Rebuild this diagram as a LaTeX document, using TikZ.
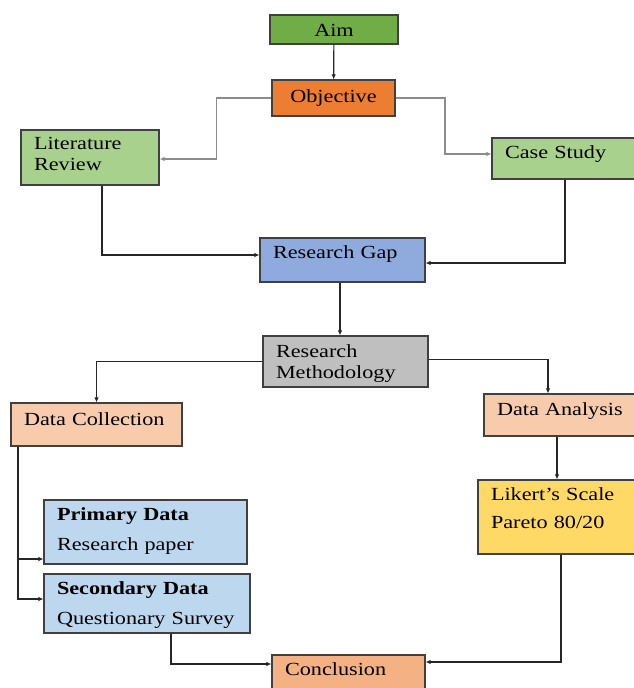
\documentclass[tikz,border=0pt]{standalone}
\usepackage{fontspec}
\setmainfont{Liberation Serif}[FakeStretch=1.2]
\usetikzlibrary{arrows.meta}

\definecolor{aimgreen}{HTML}{70AD47}
\definecolor{objorange}{HTML}{ED7D31}
\definecolor{litgreen}{HTML}{A9D18E}
\definecolor{gapblue}{HTML}{8FAADC}
\definecolor{methgray}{HTML}{BFBFBF}
\definecolor{peach}{HTML}{F8CBAD}
\definecolor{paleblue}{HTML}{BDD7EE}
\definecolor{gold}{HTML}{FFD966}
\definecolor{conclorange}{HTML}{F4B183}

\begin{document}
\begin{tikzpicture}[x=1pt, y=-1pt,
    box/.style={draw=black!75, line width=1.2pt, inner xsep=13pt, inner ysep=0pt,
        align=left, font=\fontsize{18.5}{21}\selectfont, text=black, text height=13pt},
    sz/.style 2 args={minimum width=#1pt, minimum height=#2pt, text width=#1pt-26pt},
    lift/.style={text depth=#1pt},
    arr/.style={line width=1.2pt, black!85, -{Latex[length=5pt, width=4.5pt]}},
    arrg/.style={line width=1.8pt, black!45, -{Latex[length=5pt, width=4.5pt]}}]

    \useasboundingbox (0,0) rectangle (633,688);

    % Boxes
    \node[box, fill=aimgreen, sz={128}{29}, lift=0, align=center] (aim) at (334,29.5) {Aim};
    \node[box, fill=objorange, sz={123}{36}, lift=4.6, align=center] (obj) at (333.5,98) {Objective};
    \node[box, fill=litgreen, sz={138}{55}, lift=29.6] (lit) at (90,157.5) {Literature\\Review};
    \node[box, fill=litgreen, sz={148}{41}, lift=13.6] (case) at (566,158.5) {Case Study};
    \node[box, fill=gapblue, sz={165}{44}, lift=16.6] (gap) at (342.5,260) {Research Gap};
    \node[box, fill=methgray, sz={165}{51}, lift=21.6] (meth) at (345.5,361.5) {Research\\Methodology};
    \node[box, fill=peach, sz={171}{43}, lift=11.6] (dcol) at (96.5,424.5) {Data Collection};
    \node[box, fill=peach, sz={156}{42}, lift=11.6] (dana) at (562,415) {Data Analysis};
    \node[box, fill=gold, sz={162}{74}, lift=46.6] (likert) at (559,517) {Likert's Scale\\[7pt]Pareto 80/20};
    \node[box, fill=paleblue, sz={203}{64}, lift=36.6] (prim) at (145.5,532) {\textbf{Primary Data}\\[9pt]Research paper};
    \node[box, fill=paleblue, sz={206}{59}, lift=31.6] (sec) at (147,603.5) {\textbf{Secondary Data}\\[9pt]Questionary Survey};
    \node[box, fill=conclorange, sz={153}{40}, lift=12.6] (concl) at (348.5,675) {Conclusion};

    % Connectors
    \draw[arr] (aim) -- (obj);
    \draw[arrg] (obj.west) -- ++(-55,0) |- ([yshift=-1.5pt]lit.east);
    \draw[arrg] (obj.east) -- ++(49,0) |- ([yshift=4.5pt]case.west);
    \draw[arr] ([xshift=12pt]lit.south) |- ([yshift=5pt]gap.west);
    \draw[arr] ([xshift=-1pt]case.south) |- ([yshift=-3pt]gap.east);
    \draw[arr] ([xshift=-2.5pt]gap.south) -- ([xshift=-2.5pt]gap.south |- meth.north);
    \draw[arr] (meth.west) -| (dcol.north);
    \draw[arr] ([yshift=2pt]meth.east) -| ([xshift=-14pt]dana.north);

    \coordinate (dcb) at ([xshift=-78.5pt]dcol.south);
    \draw[arr] (dcb) |- ([yshift=-27pt]prim.west);
    \draw[arr] (dcb) |- ([yshift=4.5pt]sec.west);

    \draw[arr] ([xshift=-5pt]dana.south) -- ([xshift=-5pt]dana.south |- likert.north);
    \draw[arr] ([xshift=24pt]sec.south) |- ([yshift=11pt]concl.west);
    \draw[arr] ([xshift=2pt]likert.south) |- ([yshift=13pt]concl.east);
\end{tikzpicture}
\end{document}
